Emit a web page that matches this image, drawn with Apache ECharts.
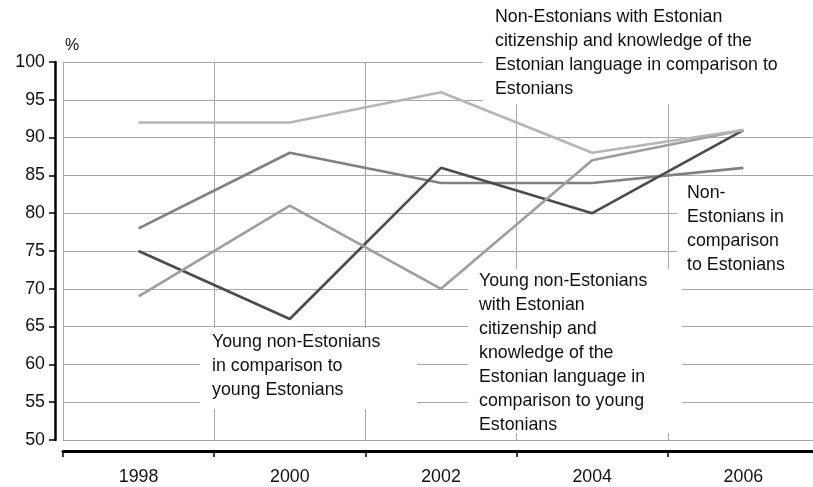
<!DOCTYPE html>
<html>
<head>
<meta charset="utf-8">
<script src="https://cdn.jsdelivr.net/npm/echarts@6/dist/echarts.min.js"></script>
<style>
  html, body { margin: 0; padding: 0; background: #fff; overflow: hidden; }
  #chart { width: 820px; height: 487px; }
</style>
</head>
<body>
<div id="chart"></div>
<script>
var years = ['1998', '2000', '2002', '2004', '2006'];
var citizensVsEstonians = [92, 92, 96, 88, 91];
var nonEstVsEstonians = [78, 88, 84, 84, 86];
var youngVsYoung = [75, 66, 86, 80, 91];
var youngCitizensVsYoung = [69, 81, 70, 87, 91];

var font = '"Liberation Sans", Arial, sans-serif';
var fs = 17.8;
var grid = '#a8a8a8';

// white boxes behind the line labels (they hide the grid like in the original)
function box(x, y, w, h) {
  return { type: 'rect', z: 1, silent: true, shape: { x: x, y: y, width: w, height: h }, style: { fill: '#fff' } };
}
function note(x, y, txt) {
  return {
    type: 'text', z: 5, silent: true, x: x, y: y,
    style: { text: txt, font: fs + 'px ' + font, lineHeight: 24, fill: '#111', verticalAlign: 'top' }
  };
}

// the plot runs a few pixels past the right edge of the window, as in the original
var chart = echarts.init(document.getElementById('chart'), null, { renderer: 'canvas' });
chart.setOption({
  animation: false,
  backgroundColor: '#fff',
  grid: { left: 63, right: 1, top: 62, bottom: 47, containLabel: false },
  xAxis: {
    type: 'category', data: years, boundaryGap: true, offset: 11,
    axisLine: { lineStyle: { color: '#000', width: 3 } },
    axisTick: { show: true, interval: 0, length: 6, lineStyle: { color: '#000', width: 1.5 } },
    axisLabel: { color: '#111', fontSize: fs, fontFamily: font, margin: 17, interval: 0 },
    splitLine: { show: true, interval: 0, lineStyle: { color: grid, width: 1 } }
  },
  yAxis: {
    type: 'value', min: 50, max: 100, interval: 5, offset: 8,
    name: '%', nameLocation: 'end', nameGap: 8,
    nameTextStyle: { color: '#111', fontSize: 16, fontFamily: font, align: 'left', padding: [0, 0, 0, 10] },
    axisLine: { show: true, lineStyle: { color: '#000', width: 2.5 } },
    axisTick: { show: true, length: 6, lineStyle: { color: '#000', width: 1.5 } },
    axisLabel: { color: '#111', fontSize: fs, fontFamily: font, margin: 10 },
    splitLine: { show: true, lineStyle: { color: grid, width: 1 } }
  },
  series: [
    { name: 'Non-Estonians in comparison to Estonians', type: 'line', data: nonEstVsEstonians,
      showSymbol: false, symbol: 'none', lineStyle: { color: '#808080', width: 2.6 }, z: 3 },
    { name: 'Young non-Estonians in comparison to young Estonians', type: 'line', data: youngVsYoung,
      showSymbol: false, symbol: 'none', lineStyle: { color: '#4b4b4b', width: 2.6 }, z: 3 },
    { name: 'Young non-Estonians with Estonian citizenship', type: 'line', data: youngCitizensVsYoung,
      showSymbol: false, symbol: 'none', lineStyle: { color: '#9e9e9e', width: 2.6 }, z: 3 },
    { name: 'Non-Estonians with Estonian citizenship', type: 'line', data: citizensVsEstonians,
      showSymbol: false, symbol: 'none', lineStyle: { color: '#b5b5b5', width: 2.6 }, z: 3 }
  ],
  graphic: [
    box(483, 0, 340, 104),
    box(677, 180, 145, 103),
    box(200, 328, 217, 81),
    box(468, 269, 214, 164),
    note(495, 5, 'Non-Estonians with Estonian\ncitizenship and knowledge of the\nEstonian language in comparison to\nEstonians'),
    note(687, 181, 'Non-\nEstonians in\ncomparison\nto Estonians'),
    note(212, 330, 'Young non-Estonians\nin comparison to\nyoung Estonians'),
    note(479, 269, 'Young non-Estonians\nwith Estonian\ncitizenship and\nknowledge of the\nEstonian language in\ncomparison to young\nEstonians')
  ]
});
window.addEventListener('resize', function() { chart.resize(); });
</script>
</body>
</html>
